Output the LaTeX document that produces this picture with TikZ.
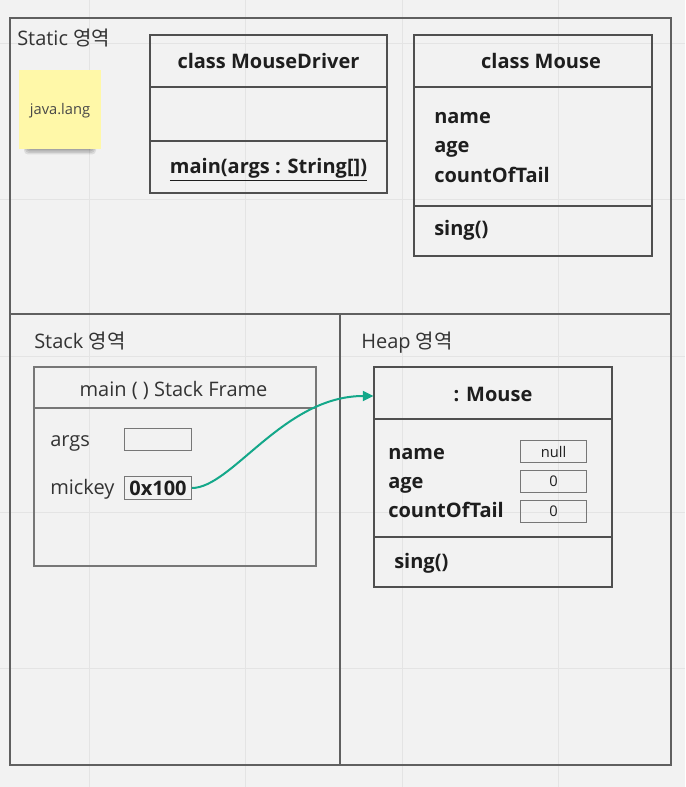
\documentclass[tikz,border=0pt]{standalone}
\usepackage{fontspec}
\setmainfont{Open Sans}
\newfontfamily\krfont{Noto Sans CJK KR}
\usetikzlibrary{arrows.meta}

\definecolor{bggray}{HTML}{F2F2F2}
\definecolor{gridgray}{HTML}{E4E4E4}
\definecolor{linegray}{HTML}{606060}
\definecolor{boxgray}{HTML}{4F4F4F}
\definecolor{framegray}{HTML}{777777}
\definecolor{txtdark}{HTML}{1E1E1E}
\definecolor{txtreg}{HTML}{333333}
\definecolor{notefill}{HTML}{FFF8A8}
\definecolor{arrowteal}{HTML}{14A88A}

\begin{document}
\begin{tikzpicture}[
  x=0.75pt, y=-0.75pt,
  region/.style={draw=linegray, line width=1.1pt},
  comp/.style={draw=boxgray, line width=0.8pt, inner sep=0pt},
  lbl/.style={anchor=base west, inner sep=0pt, text=txtreg, font=\fontsize{15}{18}\selectfont},
  ttl/.style={anchor=base, inner sep=0pt, text=txtdark, font=\fontsize{15}{18}\selectfont\bfseries},
  fld/.style={anchor=base west, inner sep=0pt, text=txtdark, font=\fontsize{15}{18}\selectfont\bfseries},
  slot/.style={draw=framegray, line width=0.8pt, minimum width=50pt, minimum height=17pt, inner sep=0pt},
  note/.style={fill=notefill, minimum width=61pt, minimum height=59pt, inner sep=0pt},
  ref/.style={-{Triangle[length=8pt, width=7.5pt]}, draw=arrowteal, line width=1.5pt}
]

% --- Background and grid ---
\fill[bggray] (0,0) rectangle (685,787);
\useasboundingbox (0,0) rectangle (685,787);
\foreach \gx in {89,245,402,558}
  \draw[gridgray, line width=0.75pt] (\gx,0) -- (\gx,787);
\foreach \gy in {44,200,356,512,668}
  \draw[gridgray, line width=0.75pt] (0,\gy) -- (685,\gy);

% --- Memory regions ---
\draw[region] (10,18) rectangle (671,765);
\draw[region] (10,314) -- (671,314);
\draw[region] (340,314) -- (340,765);

\node[lbl] (static) at (17,46)  {Static {\krfont 영역}};
\node[lbl] (stack)  at (34,348) {Stack {\krfont 영역}};
\node[lbl] (heap)   at (361,348) {Heap {\krfont 영역}};

% --- Static: sticky note ---
\foreach \s in {0,1,2,3}
  \fill[black, opacity=0.09, rounded corners=3pt] (27-\s,141) rectangle (93+\s,150+1.5*\s);
\node[note] (jlang) at (60,109.5) {};
\node[anchor=base, inner sep=0pt, text=txtreg!90, font=\fontsize{11}{13}\selectfont] (jlangtxt) at (60,115) {java.lang};

% --- Static: class MouseDriver ---
\node[comp, minimum width=177.75pt, minimum height=39pt]   (drvtop)  at (268.5,61)  {};
\node[comp, minimum width=177.75pt, minimum height=40.5pt] (drvattr) at (268.5,114) {};
\node[comp, minimum width=177.75pt, minimum height=39pt]   (drvmeth) at (268.5,167) {};
\node[ttl] (drvname) at (268.5,69)  {class MouseDriver};
\node[ttl] (drvmain) at (268.5,174) {\underline{main(args : String[])}};

% --- Static: class Mouse ---
\node[comp, minimum width=178.5pt, minimum height=39pt]    (clstop)  at (533,61)    {};
\node[comp, minimum width=178.5pt, minimum height=89.25pt] (clsattr) at (533,146.5) {};
\node[comp, minimum width=178.5pt, minimum height=37.5pt]  (clsmeth) at (533,231)   {};
\node[ttl] (clsname) at (541,69) {class Mouse};
\node[fld] (clsf1) at (434,124) {name};
\node[fld] (clsf2) at (434,153) {age};
\node[fld] (clsf3) at (434,183) {countOfTail};
\node[fld] (clsm1) at (434,236) {sing()};

% --- Stack: main frame ---
\node[comp, draw=framegray, minimum width=211.5pt, minimum height=30.75pt] (frmtop)  at (175,387.5) {};
\node[comp, draw=framegray, minimum width=211.5pt, minimum height=118.5pt] (frmbody) at (175,487)   {};
\node[lbl, anchor=base] (frmname) at (173.5,396) {main ( ) Stack Frame};
\node[lbl] (argsname)   at (50,446) {args};
\node[lbl] (mickeyname) at (50,494) {mickey};
\node[slot] (args)   at (158,439.5) {};
\node[slot, font=\fontsize{15}{18}\selectfont\bfseries, text=txtdark] (mickey) at (158,488) {0x100};

% --- Heap: Mouse object ---
\node[comp, minimum width=178.5pt, minimum height=39pt]   (objtop)  at (493,393) {};
\node[comp, minimum width=178.5pt, minimum height=88.5pt] (objattr) at (493,478) {};
\node[comp, minimum width=178.5pt, minimum height=37.5pt] (objmeth) at (493,562) {};
\node[ttl] (objname) at (493,401) {: Mouse};
\node[fld] (objf1) at (388,459) {name};
\node[fld] (objf2) at (388,488) {age};
\node[fld] (objf3) at (388,517) {countOfTail};
\node[fld] (objm1) at (394,568) {sing()};
\node[slot, font=\fontsize{11}{13}\selectfont, text=txtdark] (vname) at (553.5,451.5) {null};
\node[slot, font=\fontsize{11}{13}\selectfont, text=txtdark] (vage)  at (553.5,481.5) {0};
\node[slot, font=\fontsize{11}{13}\selectfont, text=txtdark] (vtail) at (553.5,511.5) {0};

% --- Reference ---
\draw[ref] (mickey.east) .. controls +(40,0) and +(-90,0) .. ([yshift=-2.25pt]objtop.west);

\end{tikzpicture}
\end{document}
